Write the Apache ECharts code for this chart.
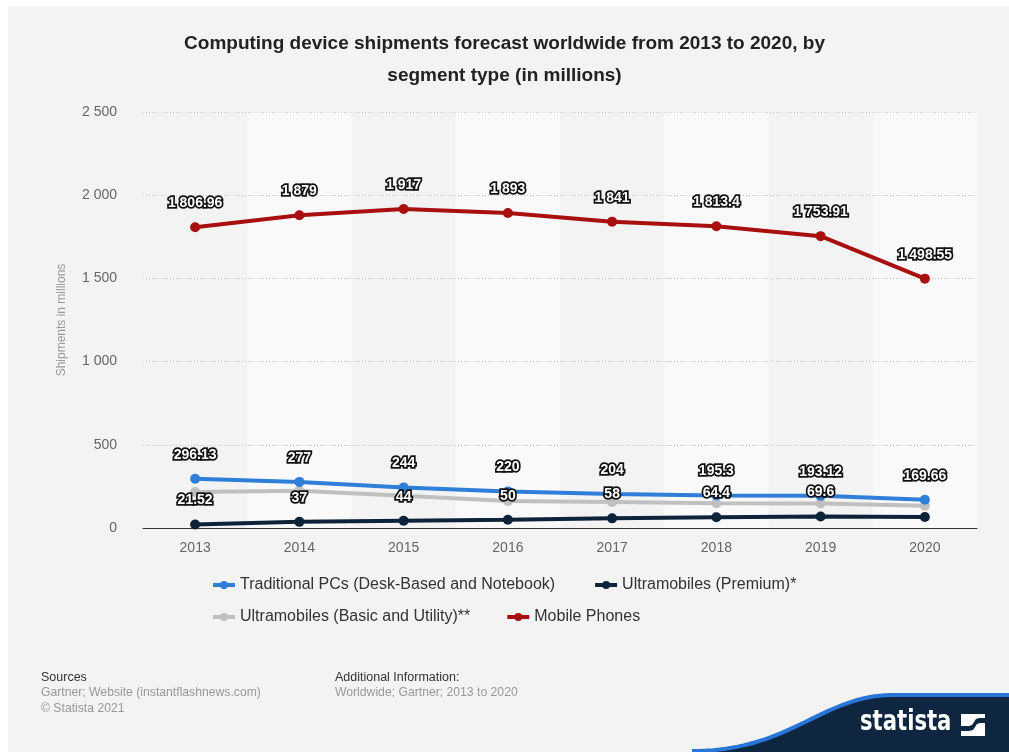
<!DOCTYPE html>
<html>
<head>
<meta charset="utf-8">
<script src="https://cdn.jsdelivr.net/npm/echarts@6/dist/echarts.min.js"></script>
<style>
  html, body { margin: 0; padding: 0; background: #ffffff; }
  #bg { position: absolute; left: 8px; top: 6px; right: 0; bottom: 0; background: #f3f3f3; }
  #chart { position: absolute; left: 0; top: 0; width: 1009px; height: 752px; }
</style>
</head>
<body>
<div id="bg"></div>
<div id="chart"></div>
<script>
// Shipments in millions, by segment type
const years = ['2013', '2014', '2015', '2016', '2017', '2018', '2019', '2020'];
const traditionalPCs = [296.13, 277, 244, 220, 204, 195.3, 193.12, 169.66];
const ultraPremium = [21.52, 37, 44, 50, 58, 64.4, 69.6, 66];
const ultraBasic = [216, 224, 194, 162, 157, 148, 147, 134];
const mobilePhones = [1806.96, 1879, 1917, 1893, 1841, 1813.4, 1753.91, 1498.55];
const yTicks = { min: 0, max: 2500, step: 500 };

const FONT = '"Liberation Sans", Arial, Helvetica, sans-serif';

// thousands separated by a space, e.g. 1 806.96
function fmt(v) {
  const parts = String(v).split('.');
  parts[0] = parts[0].replace(/\B(?=(\d{3})+(?!\d))/g, ' ');
  return parts.join('.');
}

const labelStyle = {
  show: true,
  position: 'top',
  distance: 12,
  fontFamily: FONT,
  fontSize: 14,
  fontWeight: 'bold',
  color: '#ffffff',
  textBorderColor: '#111111',
  textBorderWidth: 3.5,
  formatter: p => fmt(p.value)
};

function lineSeries(name, values, color, opts) {
  return Object.assign({
    name: name,
    type: 'line',
    data: values,
    symbol: 'circle',
    symbolSize: 10,
    z: 3,
    lineStyle: { width: 4, color: color },
    itemStyle: { color: color },
    label: labelStyle,
    emphasis: { disabled: true },
    animation: false
  }, opts || {});
}

// points along a cubic curve, for the brand ribbon outline
function cubicPoints(p0, p1, p2, p3, n) {
  const pts = [];
  for (let i = 0; i <= n; i++) {
    const t = i / n, u = 1 - t;
    pts.push([
      u * u * u * p0[0] + 3 * u * u * t * p1[0] + 3 * u * t * t * p2[0] + t * t * t * p3[0],
      u * u * u * p0[1] + 3 * u * u * t * p1[1] + 3 * u * t * t * p2[1] + t * t * t * p3[1]
    ]);
  }
  return pts;
}
const ribbonEdge = cubicPoints([692, 751], [790, 751], [820, 697], [890, 695], 40).concat([[1009, 695]]);
const ribbonFill = ribbonEdge.concat([[1009, 752], [692, 752]]);

// dotted gridlines everywhere except on the baseline, which the x axis draws solid
const gridColors = [];
for (let v = yTicks.min; v <= yTicks.max; v += yTicks.step) {
  gridColors.push(v === 0 ? 'rgba(0,0,0,0)' : '#c8c8c8');
}

const chart = echarts.init(document.getElementById('chart'), null, { renderer: 'canvas' });

const legendText = { fontFamily: FONT, fontSize: 16, color: '#333333' };

chart.setOption({
  backgroundColor: 'transparent',
  title: {
    text: 'Computing device shipments forecast worldwide from 2013 to 2020, by\nsegment type (in millions)',
    left: 'center',
    top: 23,
    textStyle: { fontFamily: FONT, fontSize: 19, fontWeight: 'bold', color: '#222222', lineHeight: 32 }
  },
  legend: [
    {
      data: ['Traditional PCs (Desk-Based and Notebook)', 'Ultramobiles (Premium)*'],
      left: 206, top: 572,
      itemWidth: 22, itemHeight: 10, itemGap: 38,
      lineStyle: { width: 4 },
      textStyle: legendText
    },
    {
      data: ['Ultramobiles (Basic and Utility)**', 'Mobile Phones'],
      left: 206, top: 604,
      itemWidth: 22, itemHeight: 10, itemGap: 35,
      lineStyle: { width: 4 },
      textStyle: legendText
    }
  ],
  grid: { left: 143, right: 32, top: 112, bottom: 224 },
  xAxis: {
    type: 'category',
    data: years,
    boundaryGap: true,
    z: 0,
    axisLine: { lineStyle: { color: '#333333', width: 1 } },
    axisTick: { show: false },
    axisLabel: { fontFamily: FONT, fontSize: 14, color: '#666666', margin: 13 },
    splitLine: { show: false },
    splitArea: { show: true, areaStyle: { color: ['rgba(0,0,0,0)', '#f9f9f9'] } }
  },
  yAxis: {
    type: 'value',
    min: yTicks.min,
    max: yTicks.max,
    interval: yTicks.step,
    z: 1,
    name: 'Shipments in millions',
    nameLocation: 'middle',
    nameGap: 75,
    nameTextStyle: { fontFamily: FONT, fontSize: 12, color: '#999999' },
    axisLine: { show: false },
    axisTick: { show: false },
    axisLabel: { fontFamily: FONT, fontSize: 14, color: '#666666', margin: 26, formatter: v => fmt(v) },
    splitLine: { lineStyle: { color: gridColors, type: [1, 2], width: 1 } }
  },
  series: [
    lineSeries('Ultramobiles (Basic and Utility)**', ultraBasic, '#c0c0c0', { label: { show: false } }),
    lineSeries('Ultramobiles (Premium)*', ultraPremium.map((v, i) =>
      i === ultraPremium.length - 1 ? { value: v, label: { show: false } } : v), '#0d233a'),
    lineSeries('Traditional PCs (Desk-Based and Notebook)', traditionalPCs, '#2f7ed8'),
    lineSeries('Mobile Phones', mobilePhones, '#a80f0f')
  ],
  graphic: [
    { type: 'text', x: 41, y: 671, style: { text: 'Sources', font: '12.5px ' + FONT, fill: '#333333' } },
    { type: 'text', x: 41, y: 687, style: { text: 'Gartner; Website (instantflashnews.com)', font: '12.2px ' + FONT, fill: '#999999' } },
    { type: 'text', x: 41, y: 703, style: { text: '\u00a9 Statista 2021', font: '12.2px ' + FONT, fill: '#999999' } },
    { type: 'text', x: 335, y: 671, style: { text: 'Additional Information:', font: '12.5px ' + FONT, fill: '#333333' } },
    { type: 'text', x: 335, y: 687, style: { text: 'Worldwide; Gartner; 2013 to 2020', font: '12.2px ' + FONT, fill: '#999999' } },
    // brand ribbon in the lower right corner
    { type: 'polygon', z: 10, shape: { points: ribbonFill }, style: { fill: '#0e2640' } },
    { type: 'polyline', z: 11, shape: { points: ribbonEdge }, style: { stroke: '#2a75d8', lineWidth: 4, fill: null } },
    {
      type: 'text', z: 12, x: 860, y: 737, scaleX: 0.73,
      style: { text: 'statista', font: 'bold 29px "DejaVu Sans", sans-serif', fill: '#ffffff', verticalAlign: 'bottom' }
    },
    { type: 'rect', z: 12, shape: { x: 961, y: 714, width: 24, height: 22 }, style: { fill: '#ffffff' } },
    {
      type: 'polygon', z: 13,
      shape: { points: [[961, 726], [969, 726], [972, 725], [976, 719], [979, 718], [985, 718], [985, 723], [980, 723], [977, 724], [973, 730], [969, 731], [961, 731]] },
      style: { fill: '#0e2640' }
    }
  ]
});
</script>
</body>
</html>
